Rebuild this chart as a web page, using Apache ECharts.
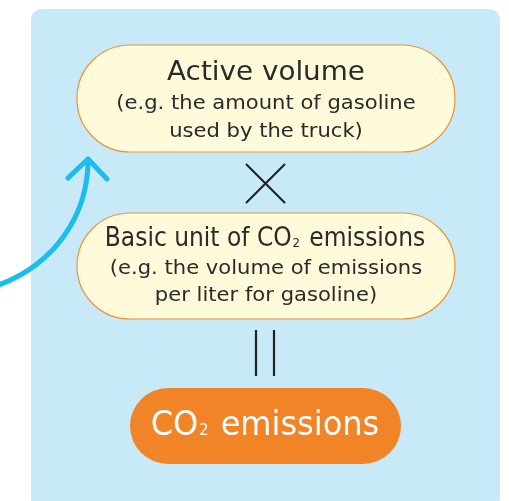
<!DOCTYPE html>
<html>
<head>
<meta charset="utf-8">
<script src="https://cdn.jsdelivr.net/npm/echarts@6/dist/echarts.min.js"></script>
<style>
html, body { margin: 0; padding: 0; background: #fff; }
#grafico { width: 509px; height: 501px; }
</style>
</head>
<body>
<div id="grafico"></div>
<script>
// textos do diagrama
var titulo_volume = 'Active volume';
var linhas_volume = ['(e.g. the amount of gasoline', 'used by the truck)'];
var titulo_unidade = ['Basic unit of CO', '2', ' emissions'];
var linhas_unidade = ['(e.g. the volume of emissions', 'per liter for gasoline)'];
var titulo_resultado = ['CO', '2', ' emissions'];

var fonte = '"DejaVu Sans", sans-serif';
var corTexto = '#2a2a2a';
var laranja = '#f18426';

var myChart = echarts.init(document.getElementById('grafico'));

var elementos = [];

// painel azul
elementos.push({
    type: 'rect',
    shape: { x: 31, y: 9, width: 469, height: 500, r: 11 },
    style: { fill: '#c7e9f8' }
});

// seta azul curva
elementos.push({
    type: 'bezierCurve',
    shape: { x1: -4, y1: 286, cpx1: 55, cpy1: 265, cpx2: 88, cpy2: 215, x2: 88, y2: 160 },
    style: { stroke: '#1bbcee', lineWidth: 5, fill: null, lineCap: 'round' }
});
elementos.push({
    type: 'polyline',
    shape: { points: [[68, 178], [88, 159], [107, 179]] },
    style: { stroke: '#1bbcee', lineWidth: 5, fill: null, lineCap: 'round', lineJoin: 'round' }
});

// caixa 1
elementos.push({
    type: 'rect',
    shape: { x: 77, y: 45, width: 378, height: 107, r: 53 },
    style: { fill: '#fffad9', stroke: '#f0913a', lineWidth: 1.2 }
});
elementos.push({
    type: 'text',
    x: 266, y: 73, scaleX: 1.03,
    style: { text: titulo_volume, align: 'center', verticalAlign: 'middle',
        font: '400 27px ' + fonte, fill: corTexto }
});
linhas_volume.forEach(function (item, i) {
    elementos.push({
        type: 'text',
        x: 266, y: 104 + i * 28, scaleX: 1.11,
        style: { text: item, align: 'center', verticalAlign: 'middle',
            font: '400 19px ' + fonte, fill: corTexto }
    });
});

// sinal de vezes
elementos.push({
    type: 'polyline',
    shape: { points: [[246, 164], [285, 203]] },
    style: { stroke: '#222', lineWidth: 2.2, fill: null }
});
elementos.push({
    type: 'polyline',
    shape: { points: [[285, 164], [246, 203]] },
    style: { stroke: '#222', lineWidth: 2.2, fill: null }
});

// caixa 2
elementos.push({
    type: 'rect',
    shape: { x: 77, y: 213, width: 378, height: 106, r: 53 },
    style: { fill: '#fffad9', stroke: '#f0913a', lineWidth: 1.2 }
});
elementos.push({
    type: 'text',
    x: 265, y: 239, scaleX: 0.9,
    style: {
        text: '{a|' + titulo_unidade[0] + '}{s|' + titulo_unidade[1] + '}{a|' + titulo_unidade[2] + '}',
        align: 'center', verticalAlign: 'middle',
        rich: {
            a: { fontFamily: fonte, fontSize: 26, fill: corTexto },
            s: { fontFamily: fonte, fontSize: 13, fill: corTexto, verticalAlign: 'middle', padding: [9, 2, 0, 1] }
        }
    }
});
linhas_unidade.forEach(function (item, i) {
    elementos.push({
        type: 'text',
        x: 266, y: 269 + i * 27, scaleX: 1.11,
        style: { text: item, align: 'center', verticalAlign: 'middle',
            font: '400 19px ' + fonte, fill: corTexto }
    });
});

// sinal de igual (vertical)
[256, 274].forEach(function (x) {
    elementos.push({
        type: 'polyline',
        shape: { points: [[x, 330], [x, 376]] },
        style: { stroke: '#222', lineWidth: 2.2, fill: null }
    });
});

// caixa laranja
elementos.push({
    type: 'rect',
    shape: { x: 130, y: 388, width: 271, height: 76, r: 38 },
    style: { fill: laranja }
});
elementos.push({
    type: 'text',
    x: 265, y: 426, scaleX: 0.97,
    style: {
        text: '{a|' + titulo_resultado[0] + '}{s|' + titulo_resultado[1] + '}{a|' + titulo_resultado[2] + '}',
        align: 'center', verticalAlign: 'middle',
        rich: {
            a: { fontFamily: fonte, fontSize: 33, fill: '#ffffff' },
            s: { fontFamily: fonte, fontSize: 15, fill: '#ffffff', verticalAlign: 'middle', padding: [11, 2, 0, 1] }
        }
    }
});

var option = {
    animation: false,
    graphic: elementos
};

myChart.setOption(option);
</script>
</body>
</html>
